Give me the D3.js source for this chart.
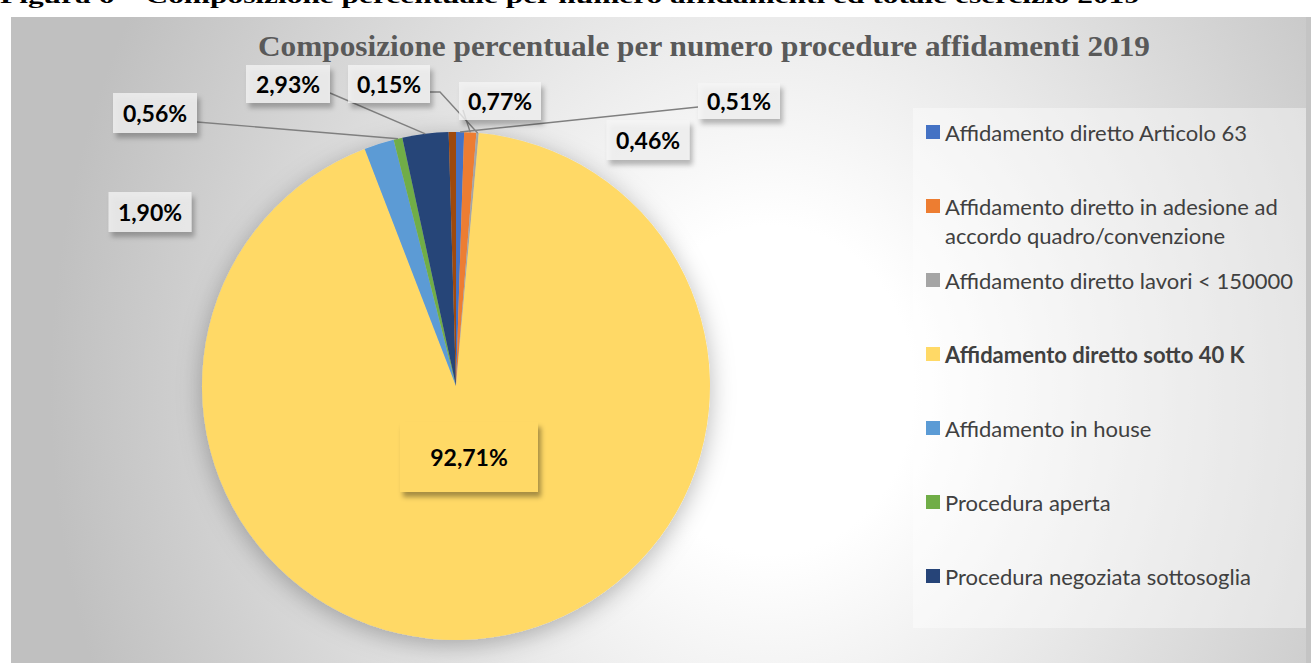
<!DOCTYPE html>
<html><head><meta charset="utf-8">
<script src="https://cdn.jsdelivr.net/npm/d3@7"></script>
<style>body{margin:0;background:#fff;} svg{display:block;}</style>
</head><body>
<svg id="chart" width="1311" height="663"></svg>
<script>
// ---- data ----
const caption = "Figura 6 – Composizione percentuale per numero affidamenti ed totale esercizio 2019";
const chartTitle = "Composizione percentuale per numero procedure affidamenti 2019";
const categories = [
  "Affidamento diretto Articolo 63",
  "Affidamento diretto in adesione ad accordo quadro/convenzione",
  "Affidamento diretto lavori < 150000",
  "Affidamento diretto sotto 40 K",
  "Affidamento in house",
  "Procedura aperta",
  "Procedura negoziata sottosoglia",
  "Altre procedure"
];
const legendLines = [
  ["Affidamento diretto Articolo 63"],
  ["Affidamento diretto in adesione ad", "accordo quadro/convenzione"],
  ["Affidamento diretto lavori < 150000"],
  ["Affidamento diretto sotto 40 K"],
  ["Affidamento in house"],
  ["Procedura aperta"],
  ["Procedura negoziata sottosoglia"],
  ["Altre procedure"]
];
const values = [0.51, 0.77, 0.15, 92.71, 1.90, 0.56, 2.93, 0.46];
const colors = ["#4472C4", "#ED7D31", "#A5A5A5", "#FFD966", "#5B9BD5", "#70AD47", "#264478", "#9E480E"];
const boldLegend = [false, false, false, true, false, false, false, false];

// ---- layout (positions of data labels, not data) ----
const labelLayout = [
  {x: 739, y: 101, w: 82, h: 36, anchor: [-41, 6]},
  {x: 500, y: 101, w: 82, h: 38, anchor: [-37, 9]},
  {x: 389, y: 84, w: 82, h: 38, anchor: [41, 8], elbow: 10},
  {x: 469, y: 457, w: 138, h: 70, anchor: null, plain: true},
  {x: 150, y: 212, w: 83, h: 40, anchor: null},
  {x: 155, y: 113, w: 84, h: 40, anchor: [42, 9]},
  {x: 288, y: 84, w: 84, h: 38, anchor: [42, 9]},
  {x: 648, y: 140, w: 83, h: 40, anchor: null}
];

const W = 1311, H = 663;
const svg = d3.select("#chart");
const defs = svg.append("defs");

// background gradient
const rg = defs.append("radialGradient").attr("id", "bg")
  .attr("gradientUnits", "userSpaceOnUse")
  .attr("cx", 0).attr("cy", 0).attr("r", 1)
  .attr("gradientTransform", "translate(770,390) scale(720,820)");
rg.append("stop").attr("offset", 0).attr("stop-color", "#ffffff");
rg.append("stop").attr("offset", 0.2).attr("stop-color", "#ffffff");
rg.append("stop").attr("offset", 1).attr("stop-color", "#c0c0c0");

const sh = defs.append("filter").attr("id", "pieShadow")
  .attr("x", "-20%").attr("y", "-20%").attr("width", "140%").attr("height", "140%");
sh.append("feDropShadow").attr("dx", 0).attr("dy", 5).attr("stdDeviation", 12)
  .attr("flood-color", "#000").attr("flood-opacity", 0.28);

const lsh = defs.append("filter").attr("id", "lblShadow")
  .attr("x", "-30%").attr("y", "-30%").attr("width", "160%").attr("height", "170%");
lsh.append("feDropShadow").attr("dx", 3).attr("dy", 5).attr("stdDeviation", 2.5)
  .attr("flood-color", "#000").attr("flood-opacity", 0.35);

defs.append("clipPath").attr("id", "legendClip")
  .append("rect").attr("x", 913).attr("y", 108).attr("width", 393).attr("height", 520);

// caption (cut at the top, as in the source page)
svg.append("text").attr("x", 0).attr("y", 3)
  .attr("font-family", "Liberation Serif, serif").attr("font-weight", "bold")
  .attr("font-size", 21).attr("fill", "#000")
  .attr("textLength", 1140).attr("lengthAdjust", "spacingAndGlyphs")
  .text(caption);

// chart area
svg.append("rect").attr("x", 11).attr("y", 17).attr("width", 1295).attr("height", H - 17)
  .attr("fill", "url(#bg)");
svg.append("rect").attr("x", 1306).attr("y", 17).attr("width", 5).attr("height", H - 17)
  .attr("fill", "#c4c4c4");

// title
svg.append("text").attr("x", 704).attr("y", 56).attr("text-anchor", "middle")
  .attr("font-family", "Liberation Serif, serif").attr("font-weight", "bold")
  .attr("font-size", 28.5).attr("fill", "#595959")
  .attr("textLength", 892).attr("lengthAdjust", "spacingAndGlyphs")
  .text(chartTitle);

// pie
const cx = 456, cy = 386, R = 254;
const pie = d3.pie().sort(null).value(d => d.v).startAngle(0).endAngle(2 * Math.PI);
const data = values.map((v, i) => ({v, i, name: categories[i]}));
const arcs = pie(data);
const arc = d3.arc().innerRadius(0).outerRadius(R);
const rimArc = d3.arc().innerRadius(R).outerRadius(R);

const g = svg.append("g").attr("transform", `translate(${cx},${cy})`);
g.append("g").attr("filter", "url(#pieShadow)")
  .selectAll("path").data(arcs).join("path")
  .attr("d", arc).attr("fill", d => colors[d.data.i]);

// leader lines
const fmt = d3.formatLocale({decimal: ",", thousands: ".", grouping: [3], currency: ["€", ""]}).format(".2%");
const leaders = svg.append("g").attr("fill", "none").attr("stroke", "#7f7f7f").attr("stroke-width", 1.4);
arcs.forEach(d => {
  const L = labelLayout[d.data.i];
  if (!L.anchor) return;
  const t = rimArc.centroid(d);
  const tx = cx + t[0], ty = cy + t[1];
  const ax = L.x + L.anchor[0], ay = L.y + L.anchor[1];
  const pts = [[ax, ay]];
  if (L.elbow) pts.push([ax + L.elbow, ay]);
  pts.push([tx, ty]);
  leaders.append("path").attr("d", d3.line()(pts));
});

// data labels
const lg = svg.append("g");
arcs.forEach(d => {
  const L = labelLayout[d.data.i];
  const grp = lg.append("g");
  grp.append("rect")
    .attr("x", L.x - L.w / 2).attr("y", L.y - L.h / 2)
    .attr("width", L.w).attr("height", L.h)
    .attr("fill", L.plain ? colors[d.data.i] : "#f6f6f6")
    .attr("fill-opacity", L.plain ? 1 : 0.75)
    .attr("filter", "url(#lblShadow)");
  grp.append("text").attr("x", L.x).attr("y", L.y)
    .attr("text-anchor", "middle").attr("dominant-baseline", "central")
    .attr("font-family", "Lato, sans-serif").attr("font-weight", "bold")
    .attr("font-size", 23).attr("fill", "#000")
    .text(fmt(d.data.v / 100));
});

// legend
const leg = svg.append("g").attr("clip-path", "url(#legendClip)");
leg.append("rect").attr("x", 913).attr("y", 108).attr("width", 393).attr("height", 520)
  .attr("fill", "#ffffff").attr("fill-opacity", 0.4);
const rowY = d3.scaleLinear().domain([0, 1]).range([132, 206]);
categories.forEach((c, i) => {
  const y = rowY(i);
  leg.append("rect").attr("x", 926).attr("y", y - 7).attr("width", 14).attr("height", 14)
    .attr("fill", colors[i]);
  legendLines[i].forEach((line, k) => {
    leg.append("text").attr("x", 945).attr("y", y + k * 29)
      .attr("dominant-baseline", "central")
      .attr("font-family", "Lato, sans-serif").attr("font-size", 22)
      .attr("font-weight", boldLegend[i] ? "bold" : "normal")
      .attr("fill", "#404040").text(line);
  });
});
</script>
</body></html>
